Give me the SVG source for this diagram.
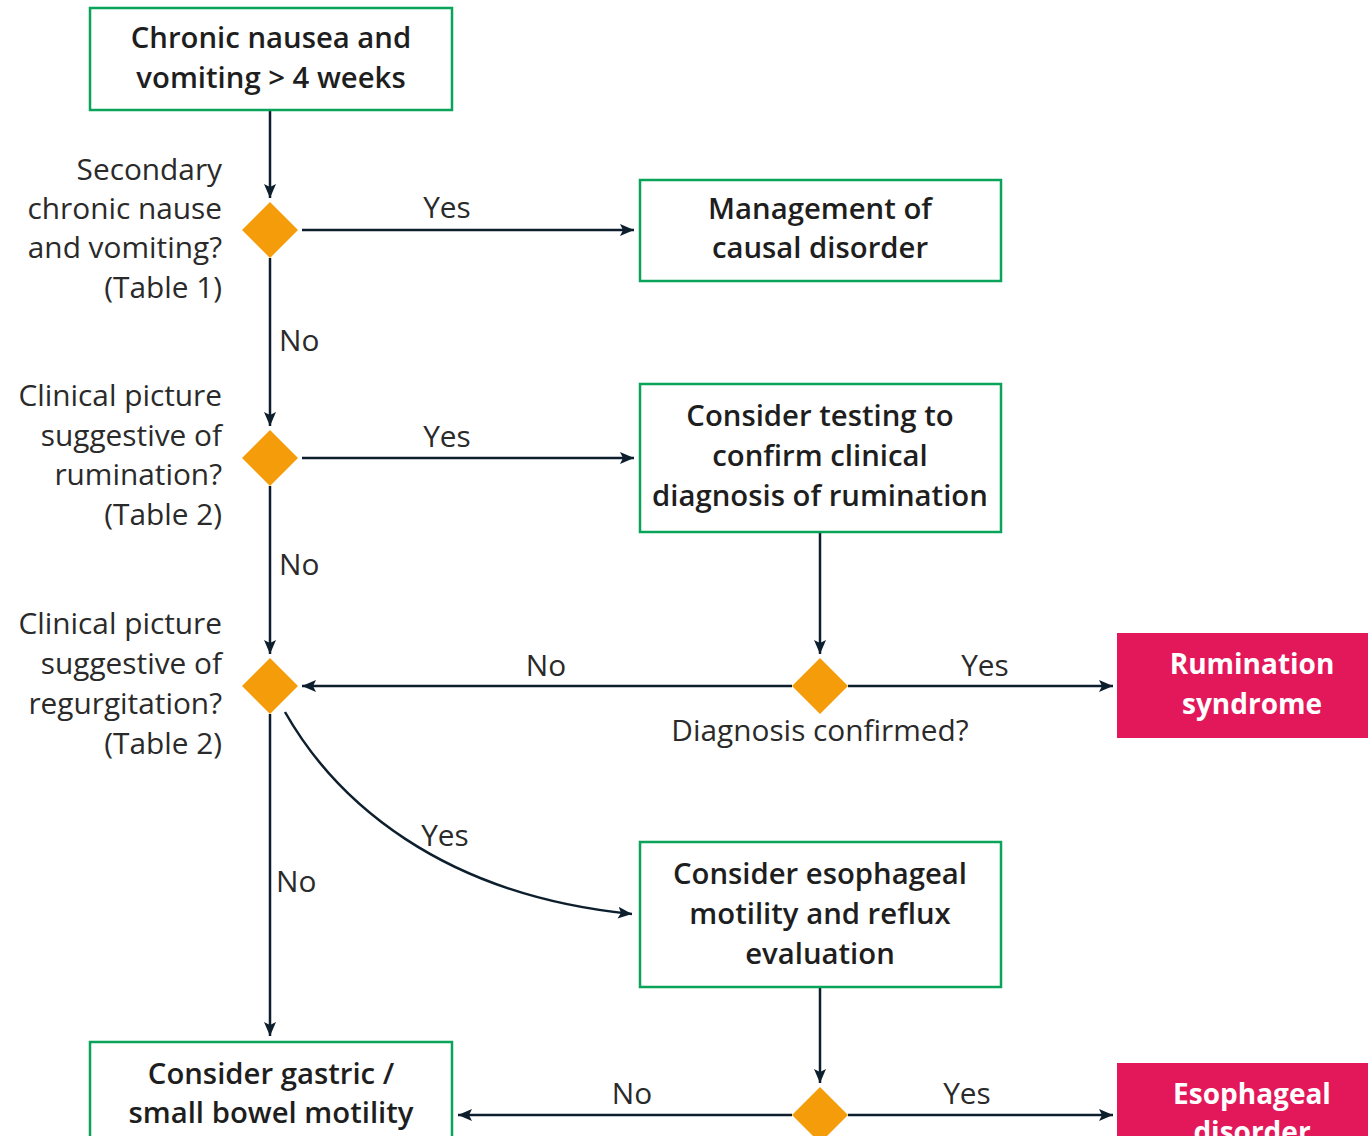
<svg xmlns="http://www.w3.org/2000/svg" width="1368" height="1136" viewBox="0 0 1368 1136">
<defs>
<marker id="arr" markerUnits="userSpaceOnUse" markerWidth="15" markerHeight="15" viewBox="0 0 15 15" refX="14" refY="7.5" orient="auto">
<path d="M0,1.5 L14,7.5 L0,13.5 L3,7.5 Z" fill="#0d1f2d"/>
</marker>
<style>
.box{fill:#fff;stroke:#0aa35a;stroke-width:2.5}
.pink{fill:#e3185b}
.dia{fill:#f59c0a}
.ln{fill:none;stroke:#0d1f2d;stroke-width:2.5;marker-end:url(#arr)}
.bt{font-family:"Open Sans","Liberation Sans",sans-serif;font-size:29.3px;font-weight:600;fill:#1e1e1e;text-anchor:middle}
.lb{font-family:"Open Sans","Liberation Sans",sans-serif;font-size:29.8px;fill:#2a2a2a}
.r{text-anchor:end}
.m{text-anchor:middle}
.pt{font-family:"Open Sans","Liberation Sans",sans-serif;font-size:28px;font-weight:700;fill:#fff;text-anchor:middle}
</style>
</defs>
<g id="connectors">
<path class="ln" d="M270,110 V198"/>
<path class="ln" d="M302,230 H634"/>
<path class="ln" d="M270,258 V426"/>
<path class="ln" d="M302,458 H634"/>
<path class="ln" d="M270,486 V654"/>
<path class="ln" d="M820,532 V654"/>
<path class="ln" d="M792,686 H302"/>
<path class="ln" d="M848,686 H1113"/>
<path class="ln" d="M285,712 C335,800 440,895 632,914"/>
<path class="ln" d="M270,714 V1036"/>
<path class="ln" d="M820,987 V1083"/>
<path class="ln" d="M792,1115 H458"/>
<path class="ln" d="M848,1115 H1113"/>
<text class="lb m" x="447" y="218">Yes</text>
<text class="lb m" x="447" y="447">Yes</text>
<text class="lb" x="279" y="351">No</text>
<text class="lb" x="279" y="575">No</text>
<text class="lb m" x="546" y="676">No</text>
<text class="lb m" x="985" y="676">Yes</text>
<text class="lb m" x="445" y="846">Yes</text>
<text class="lb" x="276" y="892">No</text>
<text class="lb m" x="632" y="1104">No</text>
<text class="lb m" x="967" y="1104">Yes</text>
</g>
<g id="start">
<rect class="box" x="90" y="8" width="362" height="102"/>
<text class="bt" x="271" y="48">Chronic nausea and</text>
<text class="bt" x="271" y="88">vomiting &gt; 4 weeks</text>
</g>
<g id="d1">
<path class="dia" d="M270,202 L298,230 L270,258 L242,230 Z"/>
<text class="lb r" x="222" y="180">Secondary</text>
<text class="lb r" x="222" y="219">chronic nause</text>
<text class="lb r" x="222" y="258">and vomiting?</text>
<text class="lb r" x="222" y="298">(Table 1)</text>
</g>
<g id="manage">
<rect class="box" x="640" y="180" width="361" height="101"/>
<text class="bt" x="820" y="219">Management of</text>
<text class="bt" x="820" y="258">causal disorder</text>
</g>
<g id="d2">
<path class="dia" d="M270,430 L298,458 L270,486 L242,458 Z"/>
<text class="lb r" x="222" y="406">Clinical picture</text>
<text class="lb r" x="222" y="446">suggestive of</text>
<text class="lb r" x="222" y="485">rumination?</text>
<text class="lb r" x="222" y="525">(Table 2)</text>
</g>
<g id="testing">
<rect class="box" x="640" y="384" width="361" height="148"/>
<text class="bt" x="820" y="426">Consider testing to</text>
<text class="bt" x="820" y="466">confirm clinical</text>
<text class="bt" x="820" y="506">diagnosis of rumination</text>
</g>
<g id="d3">
<path class="dia" d="M270,658 L298,686 L270,714 L242,686 Z"/>
<text class="lb r" x="222" y="634">Clinical picture</text>
<text class="lb r" x="222" y="674">suggestive of</text>
<text class="lb r" x="222" y="714">regurgitation?</text>
<text class="lb r" x="222" y="754">(Table 2)</text>
</g>
<g id="d4">
<path class="dia" d="M820,658 L848,686 L820,714 L792,686 Z"/>
<text class="lb m" x="820" y="741">Diagnosis confirmed?</text>
</g>
<g id="rumination">
<rect class="pink" x="1117" y="633" width="251" height="105"/>
<text class="pt" x="1252" y="674">Rumination</text>
<text class="pt" x="1252" y="714">syndrome</text>
</g>
<g id="esoeval">
<rect class="box" x="640" y="842" width="361" height="145"/>
<text class="bt" x="820" y="884">Consider esophageal</text>
<text class="bt" x="820" y="924">motility and reflux</text>
<text class="bt" x="820" y="964">evaluation</text>
</g>
<g id="d5">
<path class="dia" d="M820,1087 L848,1115 L820,1143 L792,1115 Z"/>
</g>
<g id="gastric">
<rect class="box" x="90" y="1042" width="362" height="110"/>
<text class="bt" x="271" y="1084">Consider gastric /</text>
<text class="bt" x="271" y="1123">small bowel motility</text>
</g>
<g id="esophageal">
<rect class="pink" x="1117" y="1063" width="251" height="90"/>
<text class="pt" x="1252" y="1104">Esophageal</text>
<text class="pt" x="1252" y="1142">disorder</text>
</g>
</svg>
